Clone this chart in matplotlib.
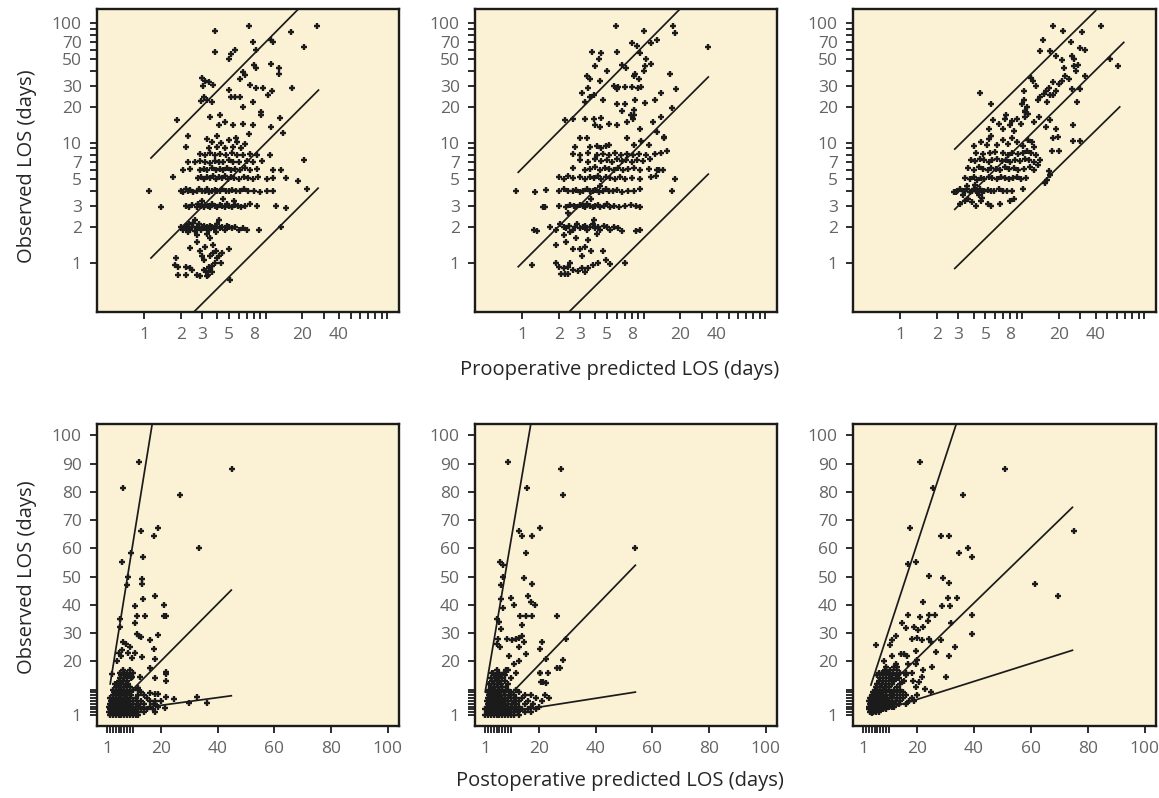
import matplotlib
matplotlib.use("Agg")
import matplotlib.pyplot as plt
from matplotlib.ticker import FixedLocator, FixedFormatter, NullLocator

plt.rcParams['font.family'] = ['Open Sans', 'DejaVu Sans']

# ---------------- preoperative predicted vs observed LOS (log-log) ----------------
pre_a_pts = [
    (1.83, 1.1), (1.8, 0.97), (1.9, 0.93), (1.9, 0.8), (2.2, 0.8), (2.2, 0.92), (2.4, 0.9), (2.5, 0.88),
    (2.75, 0.8), (2.9, 0.78), (2.7, 1.7), (2.75, 1.5), (2.9, 1.27), (3.0, 1.15), (3.1, 1.05), (3.1, 0.88),
    (3.25, 0.85), (3.35, 0.8), (3.5, 0.9), (3.6, 0.95), (3.4, 0.92), (3.5, 1.15), (3.7, 1.2), (3.9, 1.25),
    (4.0, 1.1), (3.8, 1.0), (4.3, 1.0), (5.0, 1.3), (5.1, 0.72), (3.3, 0.78), (3.6, 0.84), (4.1, 1.15),
    (3.2, 1.35), (3.7, 1.4), (4.4, 1.2), (3.5, 1.6), (2.4, 1.33),
    (2.0, 2.0), (2.1, 1.9), (2.2, 2.05), (2.25, 1.95), (2.35, 2.1), (2.4, 1.9), (2.5, 2.0), (2.55, 2.15),
    (2.6, 1.85), (2.7, 2.0), (2.8, 1.95), (2.85, 2.1), (2.95, 1.9), (3.0, 2.0), (3.1, 2.05), (3.2, 1.95),
    (3.3, 2.0), (3.4, 1.9), (3.5, 2.05), (3.6, 2.0), (3.75, 1.95), (3.9, 2.0), (4.0, 2.1), (4.2, 1.95),
    (4.4, 2.0), (4.6, 1.9), (4.8, 2.05), (5.0, 2.0), (5.3, 1.95), (5.6, 2.0), (6.0, 1.9), (6.5, 1.95),
    (7.0, 1.9), (8.8, 1.9), (13.5, 2.0), (2.3, 1.8), (3.3, 1.75), (4.1, 2.3), (3.9, 1.8), (2.6, 2.3),
    (2.2, 3.0), (2.35, 2.9), (2.5, 3.05), (2.7, 2.95), (2.8, 3.1), (2.95, 3.0), (3.1, 2.9), (3.2, 3.05),
    (3.35, 3.0), (3.5, 2.95), (3.65, 3.1), (3.8, 3.0), (4.0, 2.9), (4.2, 3.05), (4.4, 3.0), (4.6, 2.95),
    (4.8, 3.1), (5.0, 3.0), (5.3, 2.95), (5.6, 3.05), (5.9, 3.0), (6.3, 2.9), (6.8, 3.0), (7.4, 3.1),
    (8.5, 3.0), (12.1, 3.0), (14.6, 2.85), (3.0, 3.3), (4.5, 3.4), (5.5, 3.3), (1.38, 2.9),
    (1.1, 4.0), (2.0, 4.0), (2.1, 3.9), (2.2, 4.1), (2.3, 3.95), (2.4, 4.05), (2.55, 3.9), (2.7, 4.0),
    (2.85, 4.1), (3.0, 3.95), (3.15, 4.0), (3.3, 4.1), (3.45, 3.9), (3.6, 4.0), (3.8, 4.05), (4.0, 3.95),
    (4.2, 4.0), (4.4, 4.1), (4.7, 3.95), (5.0, 4.0), (5.3, 4.05), (5.7, 3.95), (6.1, 4.0), (6.6, 4.1),
    (7.2, 3.95), (8.0, 4.0), (9.0, 3.9), (10.2, 4.0), (11.4, 3.95), (22.0, 4.1), (18.3, 4.8),
    (1.73, 5.2), (2.8, 5.1), (2.95, 5.2), (3.1, 5.0), (3.3, 5.2), (3.5, 5.1), (3.7, 5.3), (3.9, 5.0),
    (4.1, 5.2), (4.4, 5.1), (4.6, 5.3), (4.9, 5.0), (5.2, 5.2), (5.5, 5.1), (6.0, 5.0), (6.6, 5.2),
    (7.2, 5.1), (7.8, 5.0), (8.6, 5.2), (10.2, 5.0), (11.4, 5.1), (14.6, 5.1),
    (2.1, 6.0), (2.4, 6.1), (2.9, 5.9), (3.1, 6.1), (3.3, 6.0), (3.6, 6.2), (3.9, 5.9), (4.2, 6.1),
    (4.5, 6.0), (4.8, 6.2), (5.2, 5.9), (5.6, 6.1), (6.1, 6.0), (6.7, 6.2), (7.5, 5.9), (8.5, 6.1),
    (11.5, 6.0), (13.5, 6.0),
    (2.3, 7.0), (2.6, 6.9), (2.9, 7.1), (3.2, 7.0), (3.5, 6.8), (3.8, 7.1), (4.1, 7.0), (4.5, 6.9),
    (5.0, 7.2), (5.4, 7.0), (6.0, 6.9), (7.0, 7.1), (7.8, 7.0), (9.3, 7.1), (20.5, 7.2),
    (2.9, 8.1), (3.2, 8.0), (3.5, 8.2), (3.8, 7.9), (4.2, 8.1), (4.7, 8.0), (5.3, 8.2), (5.8, 8.0),
    (6.5, 7.9), (7.4, 8.1), (8.5, 8.0), (10.8, 8.0),
    (3.4, 9.0), (4.0, 9.3), (4.6, 9.0), (5.4, 9.2), (6.3, 9.0), (3.6, 10.2), (4.3, 10.0), (5.0, 10.5),
    (5.8, 10.2), (6.8, 9.8), (2.2, 9.3), (3.3, 10.8),
    (2.3, 11.4), (4.0, 11.5), (5.7, 11.0), (7.3, 11.8), (11.0, 13.6), (14.0, 12.1), (13.2, 16.2),
    (3.5, 16.5), (4.1, 14.2), (4.6, 15.0), (5.4, 14.0), (6.5, 14.5), (7.8, 14.0), (9.2, 17.0),
    (1.86, 15.5), (4.2, 17.2),
    (3.0, 35), (3.2, 33), (3.45, 32), (3.7, 30.5), (3.05, 30), (3.1, 24), (3.3, 23), (3.6, 22),
    (2.95, 22.5), (5.0, 27.7), (5.2, 24), (5.6, 24), (6.2, 24), (6.5, 20), (7.8, 22), (9.1, 18),
    (7.5, 30.4), (8.3, 29), (9.6, 28.7), (10.4, 25), (16.6, 28.7), (6.2, 34), (6.5, 39), (6.8, 37),
    (11.0, 45.7), (12.8, 42), (12.8, 37.6), (8.0, 44.7), (8.4, 42), (11.3, 27),
    (3.8, 86), (7.3, 94), (26.7, 94), (16.3, 84), (20.5, 63), (7.8, 69.6), (11.0, 72), (11.5, 70),
    (3.8, 57), (5.0, 50), (5.2, 55), (5.6, 60), (8.3, 60),
]
pre_a_line_x = [[1.14, 18.6], [1.14, 27.2], [2.5, 27.0]]
pre_a_line_y = [[7.5, 131.0], [1.1, 27.6], [0.38, 4.2]]

pre_b_pts = [
    (0.89, 4.0), (1.2, 0.96), (1.28, 3.9), (1.58, 4.05), (1.5, 2.9), (1.25, 1.9), (1.32, 1.85),
    (1.9, 1.0), (2.0, 0.92), (2.1, 0.81), (2.2, 0.9), (2.25, 0.81), (2.4, 0.81), (2.4, 0.92), (2.5, 1.0),
    (2.6, 0.88), (2.9, 0.86), (3.1, 0.9), (3.3, 0.84), (3.5, 0.9), (3.8, 0.96), (4.2, 1.0), (4.9, 1.05),
    (5.3, 0.98), (7.0, 1.0), (1.9, 1.4), (2.3, 1.5), (2.6, 1.3), (3.0, 1.3), (3.3, 1.35), (3.1, 1.15),
    (3.7, 1.25), (4.6, 1.25), (2.2, 1.7), (2.8, 1.6), (3.5, 1.55), (4.1, 1.75),
    (1.7, 2.0), (1.9, 1.9), (2.05, 2.1), (2.2, 2.0), (2.3, 1.95), (2.45, 2.05), (2.6, 1.9), (2.7, 2.0),
    (2.85, 2.1), (3.0, 1.95), (3.15, 2.0), (3.3, 2.05), (3.45, 1.9), (3.6, 2.0), (3.8, 2.1), (4.0, 1.95),
    (4.2, 2.0), (4.4, 1.9), (4.7, 2.05), (5.0, 2.0), (5.3, 1.9), (5.7, 2.0), (6.1, 1.95), (6.6, 1.85),
    (8.6, 1.85), (9.4, 1.9), (3.9, 2.3), (2.5, 1.8),
    (1.55, 2.9), (2.0, 3.0), (2.3, 2.95), (2.5, 3.05), (2.65, 3.0), (2.8, 2.9), (3.0, 3.05), (3.15, 3.0),
    (3.3, 2.95), (3.45, 3.1), (3.6, 3.0), (3.8, 2.9), (4.0, 3.0), (4.2, 3.05), (4.4, 2.95), (4.7, 3.0),
    (5.0, 3.1), (5.3, 2.9), (5.7, 3.0), (6.3, 2.95), (7.0, 3.0), (7.8, 3.05), (8.6, 3.0), (9.3, 2.9),
    (3.7, 3.4), (2.4, 2.6),
    (2.0, 4.0), (2.2, 4.1), (2.4, 3.95), (2.6, 4.0), (2.8, 4.05), (3.0, 3.9), (3.2, 4.0), (3.4, 4.1),
    (3.6, 3.95), (3.8, 4.0), (4.0, 4.05), (4.3, 3.9), (4.6, 4.0), (4.9, 4.1), (5.2, 3.95), (5.6, 4.0),
    (6.0, 4.05), (6.6, 3.9), (7.4, 4.0), (8.4, 4.0), (9.4, 4.1), (17.0, 3.95), (4.4, 4.4),
    (2.0, 5.2), (2.2, 5.0), (2.4, 5.3), (2.6, 5.1), (3.0, 5.2), (3.3, 5.0), (3.6, 5.2), (3.9, 5.1),
    (4.2, 5.3), (4.5, 5.0), (4.9, 5.2), (5.3, 5.1), (5.8, 5.0), (6.4, 5.2), (7.0, 5.0), (8.0, 5.1),
    (9.4, 5.0), (11.5, 5.2), (12.6, 5.3), (18.0, 5.0), (13.5, 5.9),
    (2.6, 6.2), (3.3, 6.0), (3.6, 6.1), (4.0, 6.3), (4.4, 6.0), (4.8, 6.2), (5.2, 6.1), (5.7, 6.0),
    (6.2, 6.2), (6.8, 6.0), (7.5, 6.1), (8.3, 6.2), (9.3, 6.0), (11.0, 6.1), (12.8, 6.0), (14.5, 6.0),
    (3.0, 7.2), (3.5, 7.0), (4.0, 7.3), (4.5, 7.1), (5.0, 7.2), (5.5, 7.0), (6.0, 7.3), (6.6, 7.1),
    (7.2, 7.2), (8.0, 7.0), (8.8, 7.2), (9.8, 7.1), (11.2, 7.3),
    (2.6, 8.1), (3.0, 8.0), (3.5, 8.2), (4.1, 8.0), (4.6, 8.1), (5.2, 8.0), (5.8, 8.2), (6.5, 8.0),
    (7.3, 8.1), (8.2, 8.0), (9.1, 8.1), (10.5, 8.0), (12.5, 8.1), (14.0, 8.2), (15.5, 8.5),
    (2.7, 9.3), (3.6, 9.2), (4.1, 9.5), (4.5, 9.0), (4.9, 9.4), (5.2, 9.6), (8.3, 9.6), (9.5, 10.4),
    (11.0, 9.6), (3.0, 11.0), (3.4, 11.0), (7.3, 11.0), (14.8, 11.0),
    (2.24, 15.5), (2.6, 16), (3.3, 16), (3.9, 16), (4.5, 16.3), (4.0, 14), (4.4, 13.5), (5.2, 14.5),
    (6.0, 14), (7.3, 15), (7.8, 17), (8.2, 16), (9.4, 13), (12.0, 15), (13.8, 16.5), (13.0, 12.4),
    (14.8, 11.2), (6.0, 21), (6.6, 18.6), (7.0, 21), (8.3, 19), (8.3, 17), (17.0, 19.7),
    (3.1, 26), (3.3, 22), (3.6, 24), (3.9, 25), (4.6, 23), (3.5, 29), (5.7, 30), (6.0, 28),
    (6.2, 29.4), (7.0, 29.4), (8.0, 29.4), (9.0, 28.5), (9.6, 29.4), (8.5, 23), (10.2, 21.5),
    (12.4, 23), (14.0, 26), (18.5, 28), (16.4, 37.5), (8.5, 37.5), (3.4, 36), (3.6, 34), (4.4, 33),
    (5.9, 94), (10.0, 86), (17.4, 94), (18.2, 82), (34.0, 63), (8.0, 68), (8.8, 65), (11.4, 68),
    (12.8, 72), (6.0, 57), (3.75, 57), (4.5, 56), (4.3, 50), (4.0, 44), (5.0, 40), (6.6, 45), (7.2, 42),
    (9.4, 56), (10.5, 50), (10.2, 44), (11.4, 46), (10.0, 40), (9.2, 34), (8.4, 36),
]
pre_b_line_x = [[0.93, 20.5], [0.93, 34.0], [2.43, 34.0]]
pre_b_line_y = [[5.7, 135.0], [0.93, 35.5], [0.39, 5.5]]

pre_c_pts = [
    (3.1, 3.1), (3.4, 3.3), (3.9, 3.2), (4.2, 3.0), (4.6, 3.3), (5.2, 3.1), (5.6, 3.0), (6.6, 3.1),
    (8.0, 3.3), (8.6, 3.4), (4.7, 3.5), (3.6, 3.4), (2.85, 3.9),
    (2.75, 3.9), (2.9, 4.0), (3.1, 4.1), (3.25, 3.95), (3.4, 4.0), (3.55, 4.15), (3.7, 3.9), (3.85, 4.0),
    (4.0, 4.1), (4.15, 3.95), (4.3, 4.0), (4.5, 4.1), (4.7, 3.9), (4.9, 4.0), (5.2, 4.05), (5.5, 3.95),
    (5.9, 4.0), (6.4, 4.1), (7.0, 3.95), (7.5, 4.0), (8.3, 4.0), (10.2, 4.1), (3.5, 4.4), (4.1, 4.5),
    (3.3, 3.7), (4.4, 3.7),
    (3.4, 5.1), (3.7, 5.0), (4.0, 5.2), (4.3, 4.9), (4.6, 5.1), (4.9, 5.0), (5.3, 5.2), (5.7, 5.1),
    (6.2, 5.0), (6.7, 5.2), (7.2, 5.1), (7.8, 5.0), (8.4, 5.1), (9.0, 5.2), (9.8, 5.0), (10.8, 5.1),
    (16.0, 4.9), (17.0, 5.4), (16.5, 5.8), (15.5, 4.6),
    (3.6, 6.2), (4.0, 6.0), (4.4, 6.3), (4.8, 6.1), (5.2, 6.0), (5.6, 6.2), (6.1, 6.1), (6.6, 6.0),
    (7.2, 6.3), (7.8, 6.1), (8.5, 6.2), (9.3, 6.0), (10.3, 6.1), (11.5, 6.3), (12.6, 6.0), (13.5, 6.6),
    (3.8, 7.2), (4.1, 7.1), (4.5, 7.3), (4.9, 7.2), (5.3, 7.0), (5.7, 7.2), (6.2, 7.3), (6.8, 7.1),
    (7.4, 7.2), (8.0, 7.0), (8.8, 7.2), (9.6, 7.1), (10.5, 7.3), (11.4, 7.2), (12.6, 7.0), (14.0, 7.2),
    (4.2, 8.3), (4.8, 8.1), (5.4, 8.2), (6.0, 8.4), (6.9, 8.2), (7.6, 8.0), (8.3, 8.3), (9.2, 8.1),
    (10.2, 8.2), (11.0, 8.5), (11.8, 8.3), (13.0, 8.0), (17.6, 8.6), (20.0, 8.6),
    (4.0, 9.5), (4.6, 10.2), (5.1, 9.7), (5.3, 10.8), (5.6, 11.5), (6.2, 9.6), (6.9, 10.5), (7.6, 9.8),
    (8.2, 11.0), (9.0, 10.2), (10.2, 9.5), (11.2, 10.6), (12.1, 10.2), (18.0, 11.0), (19.5, 11.2),
    (26.0, 10.4), (29.5, 10.4), (12.5, 9.3),
    (5.3, 13), (5.8, 15.5), (6.5, 14.5), (7.2, 15.8), (7.0, 13.2), (8.2, 15.2), (8.0, 14), (9.0, 16),
    (9.7, 14.5), (10.5, 16.5), (11.2, 17.5), (12.5, 15), (13.8, 16.5), (15.6, 13.5), (16.9, 15.5),
    (19.0, 13.0), (26.0, 14), (10.5, 18.5), (11.0, 20), (8.6, 12.5), (7.4, 17),
    (4.5, 26), (5.5, 21), (10.4, 23), (10.0, 21), (10.6, 18), (11.7, 35), (12.3, 33), (12.9, 30),
    (10.4, 27), (13.4, 23), (14.0, 24), (16.0, 22), (15.0, 25.5), (17.0, 25), (18.0, 25), (15.6, 27),
    (16.5, 29), (18.0, 32), (19.0, 27), (20.0, 31), (21.0, 33), (22.5, 36), (24.0, 34), (25.5, 28),
    (27.5, 40), (33.0, 36), (28.0, 22), (30.0, 28),
    (18.0, 94), (21.4, 86), (44.0, 94), (31.0, 84), (14.9, 72), (14.0, 58), (16.9, 58), (25.0, 70),
    (30.0, 62), (33.0, 60), (25.5, 53), (26.5, 50), (26.5, 44), (18.8, 53), (21.0, 49), (52.0, 50),
    (61.0, 44), (22.0, 42), (28.5, 45),
]
pre_c_line_x = [[2.8, 40.0], [2.8, 68.0], [2.8, 63.0]]
pre_c_line_y = [[8.9, 127.0], [2.8, 69.0], [0.9, 20.0]]

# ---------------- postoperative predicted vs observed LOS (linear) ----------------
post_a_pts = [
    (12.4, 90.4), (6.5, 81.4), (45, 88), (26.8, 79), (33.5, 60), (19.1, 67.3), (17.6, 64.3), (13, 66),
    (13.6, 57), (6.2, 55), (9.3, 58.5), (8.3, 50), (7.9, 47), (13.3, 49), (13.3, 47.5), (13.5, 42),
    (17.9, 43), (20.9, 40), (10.9, 39.5), (11.5, 36), (14.4, 36), (21, 36), (21.6, 36), (5.4, 35),
    (5.6, 32), (10.7, 33.6), (11.5, 29.5), (13, 28.6), (12.2, 29), (18.8, 29.4), (16.2, 27.5), (6.5, 27),
    (7.5, 26), (6.3, 24), (9.2, 25), (10.7, 23), (6, 22), (8.2, 23), (9.8, 21), (17.4, 24.4),
    (17.9, 20.7), (16, 17.5), (21.7, 16.3), (21.7, 15.5), (21.8, 13), (17.9, 14), (24.7, 6.6),
    (32.7, 7.5), (36.2, 5.1), (30, 5.1), (21.4, 3.5), (18, 6), (17.5, 5), (16, 8.8), (18, 8.5),
    (19, 8.5), (21.8, 7.5), (3.8, 12), (2.6, 15.5), (11.8, 10.5), (7, 16), (8.2, 15), (9.2, 17),
    (10.2, 16), (9.6, 14.5), (4.3, 20), (5.1, 23), (13.4, 21.5), (12.5, 14.6),
    (2, 1), (3, 1), (4, 1), (5, 1), (6, 1), (7, 1), (8, 1), (9, 1), (10, 1), (11, 1), (12, 1),
    (1.5, 2), (2.5, 2), (3.5, 2), (4.5, 2), (5.5, 2), (6.5, 2), (7.5, 2), (8.5, 2), (9.5, 2), (10.5, 2),
    (12, 2), (14, 2), (18, 2),
    (2, 3), (3, 3), (4, 3), (5, 3), (6, 3), (7, 3), (8, 3), (9, 3), (10, 3), (11, 3), (13, 3), (15, 3),
    (17, 3),
    (1.5, 4), (2.5, 4), (3.5, 4), (4.5, 4), (5.5, 4), (6.5, 4), (7.5, 4), (8.5, 4), (9.5, 4), (11, 4),
    (12.5, 4), (16, 4), (19, 4),
    (2, 5), (3, 5), (4, 5), (5, 5), (6, 5), (7, 5), (8, 5), (9, 5), (10, 5), (12, 5), (14, 5), (18, 5),
    (2.5, 6), (3.5, 6), (4.5, 6), (5.5, 6), (6.5, 6), (7.5, 6), (8.5, 6), (10, 6), (11.5, 6), (13, 6),
    (16, 6), (20, 6),
    (2, 7), (3, 7), (4, 7), (5, 7), (6, 7), (7, 7), (8, 7), (9, 7), (11, 7), (15, 7),
    (3, 8), (4, 8), (5, 8), (6, 8), (7, 8), (8, 8), (9.5, 8), (12, 8), (14, 8),
    (3.5, 9), (4.5, 9), (5.5, 9), (6.5, 9), (7.5, 9), (9, 9), (13, 9),
    (3, 10), (4, 10), (5, 10), (6, 10), (7, 10), (8, 10), (10, 10), (12, 10),
    (4, 11), (5, 11), (6, 11), (7, 11), (9, 11),
    (4.5, 12), (6, 12), (7.5, 12), (8.5, 12),
    (5, 13), (6.5, 13), (8, 13), (5.5, 14), (7, 14), (9.5, 14), (6, 15), (7.5, 15), (9, 15),
    (5.5, 16), (7, 16), (8, 16), (6.5, 17),
]
post_a_line_x = [[2.06, 16.8], [6.0, 44.8], [8.0, 44.8]]
post_a_line_y = [[12.0, 103.5], [6.0, 45.2], [2.8, 7.8]]

post_b_pts = [
    (9, 90.4), (15.9, 81.4), (27.7, 88), (28.3, 79), (54, 60), (20.2, 67.3), (12.9, 66), (14, 64.3),
    (17.5, 64.3), (15.3, 58.4), (14.6, 49.5), (17.6, 47.5), (16, 43), (17, 41), (18.5, 40), (10, 42.5),
    (11, 39.8), (13.3, 36), (15.3, 36), (17.5, 36), (26.5, 36), (14, 33), (6.2, 55), (7.4, 54),
    (7.4, 50), (6.7, 47), (6.5, 42), (7.4, 39), (5.3, 35), (5.8, 34), (6.5, 31.6), (8.8, 28),
    (10.5, 27.5), (12, 28), (13, 28.3), (14, 28.8), (14.6, 27), (5.6, 28), (5.2, 26), (6.2, 25),
    (21, 26.8), (29.5, 28), (13, 25), (15.3, 22.5), (13, 20), (20.2, 24.4), (22.5, 20.7), (26.5, 17.7),
    (28.3, 20.6), (20.5, 16), (23, 15.8), (21.5, 12.6), (22.5, 12.3), (20.7, 12.8), (9, 17), (9.5, 22),
    (11, 19), (12, 16), (3.9, 16), (5, 14), (6.3, 15), (6, 13), (22, 8), (23.5, 7), (20.3, 15.8),
    (27.4, 17.6),
    (1, 1), (2, 1), (3, 1), (4, 1), (5, 1), (6, 1), (7, 1), (8, 1), (9, 1), (10, 1), (11, 1), (13, 1),
    (1.5, 2), (2.5, 2), (3.5, 2), (4.5, 2), (5.5, 2), (6.5, 2), (7.5, 2), (8.5, 2), (9.5, 2), (11, 2),
    (12.5, 2), (15, 2), (17, 2),
    (1, 3), (2, 3), (3, 3), (4, 3), (5, 3), (6, 3), (7, 3), (8, 3), (9, 3), (10, 3), (12, 3), (14, 3),
    (16, 3), (19, 3),
    (1.5, 4), (2.5, 4), (3.5, 4), (4.5, 4), (5.5, 4), (6.5, 4), (7.5, 4), (8.5, 4), (10, 4), (11.5, 4),
    (13, 4), (17, 4), (20, 4),
    (2, 5), (3, 5), (4, 5), (5, 5), (6, 5), (7, 5), (8, 5), (9, 5), (10.5, 5), (12, 5), (15, 5), (18, 5),
    (1.5, 6), (2.5, 6), (3.5, 6), (4.5, 6), (5.5, 6), (6.5, 6), (7.5, 6), (9, 6), (11, 6), (13, 6),
    (16, 6), (21, 6),
    (2, 7), (3, 7), (4, 7), (5, 7), (6, 7), (7, 7), (8, 7), (10, 7), (12, 7), (14, 7), (19, 7),
    (2.5, 8), (3.5, 8), (4.5, 8), (5.5, 8), (6.5, 8), (8, 8), (9.5, 8), (11, 8), (15, 8), (17, 8),
    (2, 9), (3, 9), (4, 9), (5, 9), (6, 9), (7.5, 9), (10, 9), (13, 9),
    (2.5, 10), (3.5, 10), (4.5, 10), (6, 10), (7, 10), (9, 10), (12, 10),
    (3, 11), (4, 11), (5.5, 11), (7, 11), (8.5, 11),
    (2.5, 12), (4, 12), (5, 12), (6.5, 12), (9, 12),
    (3.5, 13), (5, 13), (6, 13), (8, 13), (3, 14), (4.5, 14), (7, 14), (10, 14),
    (4, 15), (5.5, 15), (8, 15), (3.5, 16), (6, 16), (7.5, 16), (5, 17), (8.5, 17),
]
post_b_line_x = [[1.0, 17.1], [7.0, 54.0], [10.0, 54.0]]
post_b_line_y = [[9.2, 104.0], [5.3, 54.0], [2.2, 9.1]]

post_c_pts = [
    (21, 90.4), (51, 88), (36.2, 79), (25.4, 81.4), (17.4, 67.3), (75.3, 66), (28.5, 64.3), (31, 64.3),
    (37.7, 60), (34.8, 58.5), (39.3, 57), (16.6, 54.3), (19.5, 55), (24, 50.2), (29.2, 49.5), (31, 47.6),
    (61.3, 47.3), (69.5, 43), (30.8, 42.5), (34.1, 42.5), (31.7, 39.7), (22.2, 41), (28.6, 39.5),
    (39.3, 36.3), (39.3, 29.5), (16.6, 36.3), (21, 35.6), (23.7, 34.2), (24.3, 36.3), (26.4, 36.3),
    (31.9, 33.4), (18.8, 32.2), (20.3, 31), (22.1, 32.3), (18, 28), (20, 28.3), (21.5, 27.6), (24, 28),
    (24.9, 27), (28.4, 27.6), (33.2, 25), (31.2, 22), (26.5, 23.3), (25.2, 18), (30, 14.5), (14.5, 33.4),
    (16, 31.7), (11, 27.7), (12.7, 29), (10.3, 25.7), (5.5, 25.7), (11.2, 22), (14.3, 22.5), (15.4, 22.5),
    (16.5, 22), (19.4, 23.5), (20, 20.6), (19.4, 19), (12.5, 19), (13, 18), (16, 16), (16.6, 19),
    (18, 16), (6.6, 16), (8.9, 16.5), (10.7, 14), (11.2, 15), (13.5, 14), (14.6, 12.5), (19.4, 11),
    (20.6, 12.5), (22.7, 10.3), (24.9, 9), (18.5, 13.2), (21.6, 14.5), (22, 17), (8.2, 20.2),
    (3.5, 2), (4.5, 2), (5.5, 2), (6.5, 2), (4, 1.6),
    (3, 3), (4, 3), (5, 3), (6, 3), (7, 3), (8, 3), (9, 3),
    (3, 4), (4, 4), (5, 4), (6, 4), (7, 4), (8, 4), (9, 4), (10, 4), (11, 4), (12, 4),
    (3.5, 5), (4.5, 5), (5.5, 5), (6.5, 5), (7.5, 5), (8.5, 5), (9.5, 5), (10.5, 5), (12, 5), (13.5, 5),
    (16, 5),
    (3, 6), (4, 6), (5, 6), (6, 6), (7, 6), (8, 6), (9, 6), (10, 6), (11, 6), (12.5, 6), (14, 6), (17, 6),
    (19, 6),
    (3.5, 7), (4.5, 7), (5.5, 7), (6.5, 7), (7.5, 7), (8.5, 7), (9.5, 7), (11, 7), (13, 7), (15, 7),
    (18, 7),
    (4, 8), (5, 8), (6, 8), (7, 8), (8, 8), (9, 8), (10.5, 8), (12, 8), (14, 8), (16, 8), (20, 8),
    (4.5, 9), (5.5, 9), (6.5, 9), (7.5, 9), (9, 9), (11, 9), (13, 9), (15, 9),
    (5, 10), (6, 10), (7, 10), (8, 10), (10, 10), (12, 10), (14, 10),
    (5.5, 11), (7, 11), (8.5, 11), (10, 11), (13, 11),
    (6, 12), (7.5, 12), (9, 12), (11, 12), (14, 12),
    (6.5, 13), (8, 13), (10, 13), (12, 13), (15.5, 13),
    (7, 14), (9, 14), (11, 14), (13, 14),
    (6, 15), (8, 15), (10, 15), (12.5, 15), (16, 15),
    (7.5, 16), (9.5, 16), (11.5, 16), (14, 16), (8.5, 17), (10.5, 17), (13, 17), (9, 18), (12, 18),
]
post_c_line_x = [[3.7, 33.7], [3.7, 74.6], [3.7, 74.6]]
post_c_line_y = [[11.6, 103.9], [5.2, 74.5], [1.35, 23.9]]

# ---------------- axis ticks ----------------
log_x_ticks = [1, 2, 3, 4, 5, 6, 7, 8, 9, 10, 20, 30, 40, 50, 60, 70, 80, 90, 100]
log_x_labels = ['1', '2', '3', '', '5', '', '', '8', '', '', '20', '', '40', '', '', '', '', '', '']
log_y_ticks = [1, 2, 3, 4, 5, 6, 7, 8, 9, 10, 20, 30, 40, 50, 60, 70, 80, 90, 100]
log_y_labels = ['1', '2', '3', '', '5', '', '7', '', '', '10', '20', '30', '', '50', '', '70', '', '', '100']
lin_x_ticks = [1, 20, 40, 60, 80, 100]
lin_y_ticks = [1, 20, 30, 40, 50, 60, 70, 80, 90, 100]
lin_minor_ticks = [2, 3, 4, 5, 6, 7, 8, 9, 10]

PANEL_BG = '#FBF1D4'
INK = '#1b1b1b'
W, H = 1159, 798

fig = plt.figure(figsize=(W / 100, H / 100), dpi=100)


def make_axes(left, right, top, bottom):
    ax = fig.add_axes([left / W, 1 - bottom / H, (right - left) / W, (bottom - top) / H])
    ax.set_facecolor(PANEL_BG)
    for s in ax.spines.values():
        s.set_linewidth(1.7)
        s.set_color(INK)
    ax.tick_params(which='both', direction='out', length=5, width=1.3, color=INK,
                   labelsize=12.5, labelcolor='#646464')
    ax.tick_params(axis='x', which='both', pad=6)
    ax.tick_params(axis='y', which='both', pad=6)
    return ax


def draw(ax, pts, line_x, line_y):
    xs = [p[0] for p in pts]
    ys = [p[1] for p in pts]
    ax.plot(xs, ys, linestyle='none', marker='+', ms=4.5, mew=1.7, color=INK, zorder=3)
    for lx, ly in zip(line_x, line_y):
        ax.plot(lx, ly, color=INK, lw=1.25, zorder=2)


cols = [(97, 399), (475, 777), (853, 1156)]

top_sets = [(pre_a_pts, pre_a_line_x, pre_a_line_y),
            (pre_b_pts, pre_b_line_x, pre_b_line_y),
            (pre_c_pts, pre_c_line_x, pre_c_line_y)]
for (l, r), (pts, lx, ly) in zip(cols, top_sets):
    ax = make_axes(l, r, 9, 312)
    ax.set_xscale('log')
    ax.set_yscale('log')
    draw(ax, pts, lx, ly)
    ax.set_xlim(0.41, 125)
    ax.set_ylim(0.39, 131)
    ax.xaxis.set_major_locator(FixedLocator(log_x_ticks))
    ax.xaxis.set_major_formatter(FixedFormatter(log_x_labels))
    ax.xaxis.set_minor_locator(NullLocator())
    ax.yaxis.set_major_locator(FixedLocator(log_y_ticks))
    ax.yaxis.set_major_formatter(FixedFormatter(log_y_labels))
    ax.yaxis.set_minor_locator(NullLocator())

bottom_sets = [(post_a_pts, post_a_line_x, post_a_line_y),
               (post_b_pts, post_b_line_x, post_b_line_y),
               (post_c_pts, post_c_line_x, post_c_line_y)]
for (l, r), (pts, lx, ly) in zip(cols, bottom_sets):
    ax = make_axes(l, r, 424, 726)
    draw(ax, pts, lx, ly)
    ax.set_xlim(-2.6, 104)
    ax.set_ylim(-2.9, 104)
    ax.xaxis.set_major_locator(FixedLocator(lin_x_ticks))
    ax.xaxis.set_minor_locator(FixedLocator(lin_minor_ticks))
    ax.yaxis.set_major_locator(FixedLocator(lin_y_ticks))
    ax.yaxis.set_minor_locator(FixedLocator(lin_minor_ticks))
    ax.set_xticklabels([str(t) for t in lin_x_ticks])
    ax.set_yticklabels([str(t) for t in lin_y_ticks])

label_kw = dict(fontsize=14.5, color='#262626', ha='center', va='center')
fig.text(27 / W, 1 - 166 / H, 'Observed LOS (days)', rotation=90, **label_kw)
fig.text(27 / W, 1 - 577 / H, 'Observed LOS (days)', rotation=90, **label_kw)
fig.text(620 / W, 1 - 370 / H, 'Prooperative predicted LOS (days)', **label_kw)
fig.text(620 / W, 1 - 781 / H, 'Postoperative predicted LOS (days)', **label_kw)

fig.savefig('out.png', dpi=100, facecolor='white')
